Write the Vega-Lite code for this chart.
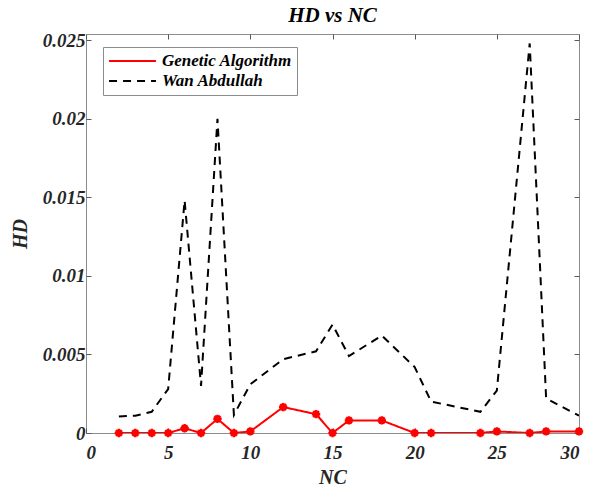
{
  "$schema": "https://vega.github.io/schema/vega-lite/v6.json",
  "autosize": "none",
  "width": 493,
  "height": 399,
  "padding": {"left": 86, "top": 34, "right": 14, "bottom": 53},
  "background": "white",
  "title": {
    "text": "HD vs NC",
    "font": "Times New Roman, Liberation Serif, serif",
    "fontSize": 21,
    "fontStyle": "italic",
    "fontWeight": "bold",
    "color": "#000000",
    "offset": 5,
    "anchor": "middle"
  },
  "config": {
    "view": {"stroke": "#8c8c8c", "strokeWidth": 1},
    "axis": {
      "grid": false,
      "domain": false,
      "tickColor": "#595959",
      "tickSize": -5,
      "labelFont": "Times New Roman, Liberation Serif, serif",
      "labelFontSize": 19,
      "labelFontStyle": "italic",
      "labelFontWeight": "bold",
      "labelColor": "#262626",
      "titleFont": "Times New Roman, Liberation Serif, serif",
      "titleFontSize": 20,
      "titleFontStyle": "italic",
      "titleFontWeight": "bold",
      "titleColor": "#262626"
    }
  },
  "data": {
    "values": [
      {"series": "Genetic Algorithm", "NC": 2, "HD": 0},
      {"series": "Genetic Algorithm", "NC": 3, "HD": 0},
      {"series": "Genetic Algorithm", "NC": 4, "HD": 0},
      {"series": "Genetic Algorithm", "NC": 5, "HD": 0},
      {"series": "Genetic Algorithm", "NC": 6, "HD": 0.0003},
      {"series": "Genetic Algorithm", "NC": 7, "HD": 0},
      {"series": "Genetic Algorithm", "NC": 8, "HD": 0.0009},
      {"series": "Genetic Algorithm", "NC": 9, "HD": 0},
      {"series": "Genetic Algorithm", "NC": 10, "HD": 0.0001},
      {"series": "Genetic Algorithm", "NC": 12, "HD": 0.00165},
      {"series": "Genetic Algorithm", "NC": 14, "HD": 0.0012},
      {"series": "Genetic Algorithm", "NC": 15, "HD": 0},
      {"series": "Genetic Algorithm", "NC": 16, "HD": 0.0008},
      {"series": "Genetic Algorithm", "NC": 18, "HD": 0.0008},
      {"series": "Genetic Algorithm", "NC": 20, "HD": 0},
      {"series": "Genetic Algorithm", "NC": 21, "HD": 0},
      {"series": "Genetic Algorithm", "NC": 24, "HD": 0},
      {"series": "Genetic Algorithm", "NC": 25, "HD": 0.0001},
      {"series": "Genetic Algorithm", "NC": 27, "HD": 0},
      {"series": "Genetic Algorithm", "NC": 28, "HD": 0.0001},
      {"series": "Genetic Algorithm", "NC": 30, "HD": 0.0001},
      {"series": "Wan Abdullah", "NC": 2, "HD": 0.00105},
      {"series": "Wan Abdullah", "NC": 3, "HD": 0.0011},
      {"series": "Wan Abdullah", "NC": 4, "HD": 0.00135},
      {"series": "Wan Abdullah", "NC": 5, "HD": 0.0028},
      {"series": "Wan Abdullah", "NC": 6, "HD": 0.0148},
      {"series": "Wan Abdullah", "NC": 7, "HD": 0.003},
      {"series": "Wan Abdullah", "NC": 8, "HD": 0.02},
      {"series": "Wan Abdullah", "NC": 9, "HD": 0.00115},
      {"series": "Wan Abdullah", "NC": 10, "HD": 0.0031},
      {"series": "Wan Abdullah", "NC": 12, "HD": 0.0047},
      {"series": "Wan Abdullah", "NC": 14, "HD": 0.0052},
      {"series": "Wan Abdullah", "NC": 15, "HD": 0.0069},
      {"series": "Wan Abdullah", "NC": 16, "HD": 0.0049},
      {"series": "Wan Abdullah", "NC": 18, "HD": 0.0062},
      {"series": "Wan Abdullah", "NC": 20, "HD": 0.0042},
      {"series": "Wan Abdullah", "NC": 21, "HD": 0.002},
      {"series": "Wan Abdullah", "NC": 24, "HD": 0.00135},
      {"series": "Wan Abdullah", "NC": 25, "HD": 0.0027},
      {"series": "Wan Abdullah", "NC": 27, "HD": 0.0248},
      {"series": "Wan Abdullah", "NC": 28, "HD": 0.0022},
      {"series": "Wan Abdullah", "NC": 30, "HD": 0.0011}
    ]
  },
  "resolve": {"axis": {"x": "independent", "y": "independent"}},
  "layer": [
    {
      "mark": {"type": "line", "strokeWidth": 2, "clip": true},
      "encoding": {
        "x": {
          "field": "NC", "type": "quantitative",
          "scale": {"domain": [0, 30], "nice": false},
          "axis": {"title": "NC", "values": [0, 5, 10, 15, 20, 25, 30], "labelPadding": 15, "titlePadding": 5}
        },
        "y": {
          "field": "HD", "type": "quantitative",
          "scale": {"domain": [0, 0.0254], "nice": false},
          "axis": {"title": "HD", "values": [0, 0.005, 0.01, 0.015, 0.02, 0.025], "labelPadding": 6, "titlePadding": 12, "format": "~g"}
        },
        "color": {
          "field": "series", "type": "nominal",
          "scale": {"domain": ["Genetic Algorithm", "Wan Abdullah"], "range": ["#ff0000", "#000000"]},
          "legend": {
            "title": null,
            "orient": "none",
            "legendX": 17,
            "legendY": 13,
            "symbolType": "stroke",
            "symbolSize": 2200,
            "symbolStrokeWidth": 2,
            "clipHeight": 18,
            "labelFont": "Times New Roman, Liberation Serif, serif",
            "labelFontSize": 17,
            "labelFontStyle": "italic",
            "labelFontWeight": "bold",
            "labelColor": "#000000",
            "strokeColor": "#8c8c8c",
            "fillColor": "white",
            "padding": 5,
            "rowPadding": 2,
            "labelOffset": 5
          }
        },
        "strokeDash": {
          "field": "series", "type": "nominal",
          "scale": {"domain": ["Genetic Algorithm", "Wan Abdullah"], "range": [[1, 0], [8, 6]]},
          "legend": {
            "title": null,
            "orient": "none",
            "legendX": 17,
            "legendY": 13,
            "symbolType": "stroke",
            "symbolSize": 2200,
            "symbolStrokeWidth": 2,
            "clipHeight": 18,
            "labelFont": "Times New Roman, Liberation Serif, serif",
            "labelFontSize": 17,
            "labelFontStyle": "italic",
            "labelFontWeight": "bold",
            "labelColor": "#000000",
            "strokeColor": "#8c8c8c",
            "fillColor": "white",
            "padding": 5,
            "rowPadding": 2,
            "labelOffset": 5
          }
        }
      }
    },
    {
      "transform": [{"filter": "datum.series === 'Genetic Algorithm'"}],
      "mark": {
        "type": "point",
        "shape": "M-1,0L1,0M0,-1L0,1M-0.7,-0.7L0.7,0.7M-0.7,0.7L0.7,-0.7",
        "filled": false,
        "stroke": "#ff0000",
        "strokeWidth": 2.5,
        "size": 70,
        "opacity": 1
      },
      "encoding": {
        "x": {"field": "NC", "type": "quantitative", "axis": {"orient": "top", "labels": false, "title": null, "values": [0, 5, 10, 15, 20, 25, 30]}},
        "y": {"field": "HD", "type": "quantitative", "axis": {"orient": "right", "labels": false, "title": null, "values": [0, 0.005, 0.01, 0.015, 0.02, 0.025]}}
      }
    }
  ]
}
